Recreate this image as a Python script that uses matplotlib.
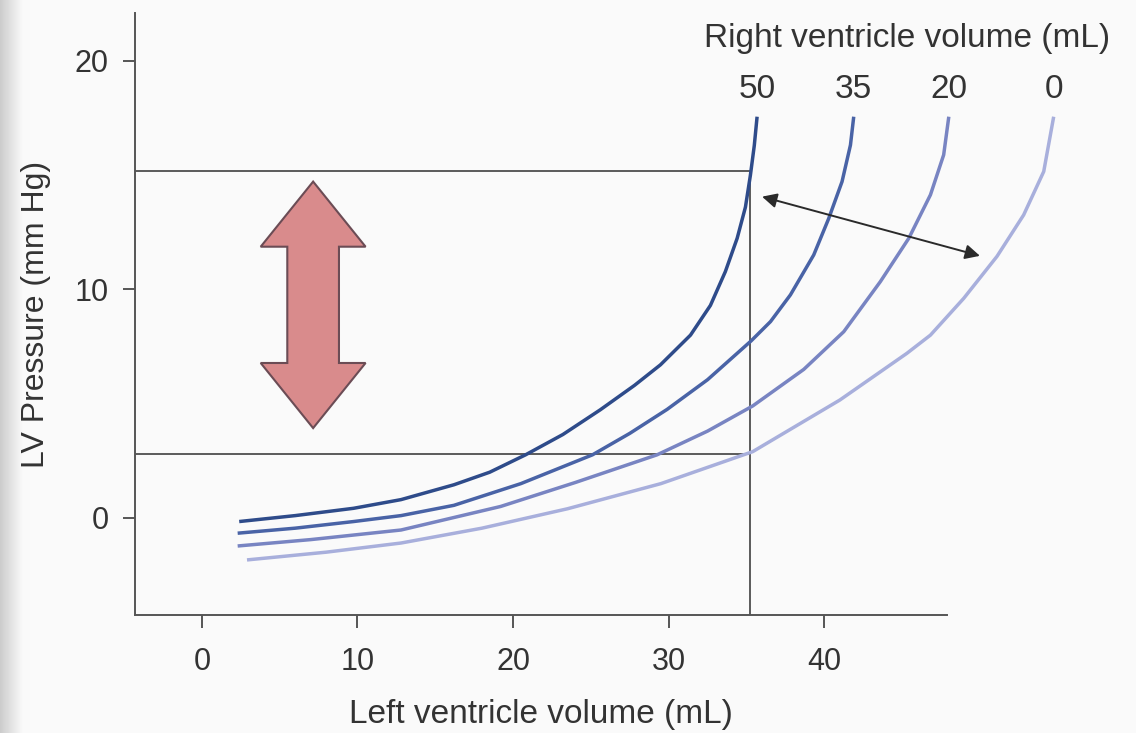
import matplotlib
matplotlib.use("Agg")
import matplotlib.pyplot as plt
import matplotlib.patches as mpatches
import numpy as np

#
# DATA
#
rv_volumes = ["50", "35", "20", "0"]

lv_vol_50 = [2.4, 6.0, 9.75, 12.8, 16.2, 18.5, 20.8, 23.2, 25.6, 27.8, 29.47, 31.4, 32.68, 33.64,
             34.4, 34.93, 35.25, 35.5, 35.68]
lv_p_50 = [-0.16, 0.1, 0.42, 0.8, 1.45, 2.0, 2.76, 3.65, 4.73, 5.8, 6.7, 8.0, 9.3, 10.78,
           12.24, 13.6, 15.0, 16.3, 17.56]

lv_vol_35 = [2.3, 6.0, 9.75, 12.8, 16.2, 20.5, 25.1, 27.5, 29.9, 32.5, 35.3, 36.54, 37.82, 39.32,
             40.28, 41.14, 41.68, 41.89]
lv_p_35 = [-0.67, -0.45, -0.16, 0.1, 0.55, 1.5, 2.76, 3.7, 4.75, 6.05, 7.75, 8.59, 9.76, 11.51,
           13.1, 14.72, 16.32, 17.56]

lv_vol_20 = [2.3, 7.0, 12.8, 19.2, 24.0, 29.25, 32.5, 35.4, 38.68, 41.25, 43.6, 45.43, 46.82,
             47.67, 48.0]
lv_p_20 = [-1.23, -0.95, -0.53, 0.5, 1.55, 2.76, 3.8, 4.9, 6.5, 8.15, 10.34, 12.24, 14.14,
           15.89, 17.56]

lv_vol_0 = [2.9, 8.0, 12.8, 18.0, 23.5, 29.5, 35.4, 41.0, 45.3, 46.82, 48.96, 51.1, 52.81,
            54.1, 54.74]
lv_p_0 = [-1.84, -1.5, -1.1, -0.45, 0.4, 1.5, 2.9, 5.16, 7.2, 8.0, 9.61, 11.45, 13.26,
          15.16, 17.56]

# reference lines
lv_mark = 35.25
p_high = 15.2
p_low = 2.8

# arrows
big_arrow_x = 7.15
big_arrow_y = (3.93, 14.72)
shift_arrow = ((36.0, 14.06), (50.0, 11.47))

curves = [(lv_vol_50, lv_p_50), (lv_vol_35, lv_p_35), (lv_vol_20, lv_p_20), (lv_vol_0, lv_p_0)]
colors = ['#2e4b8a', '#4963a6', '#7884c2', '#a8afdc']

x_min, x_max, x_axis_end = -4.3, 57.0, 47.9
y_min, y_max = -4.25, 22.1

FONT = ['Liberation Sans', 'DejaVu Sans']
NARROW = ['Liberation Sans Narrow', 'Liberation Sans', 'DejaVu Sans']
BG = '#fafafa'
TXT = '#333333'

fig = plt.figure(figsize=(11.36, 7.33), dpi=100, facecolor=BG)

# soft grey edge on the left, like the scan
edge = fig.add_axes([0, 0, 0.02, 1])
edge.imshow(np.linspace(0.80, 0.98, 50)[None, :], cmap='gray', vmin=0, vmax=1,
            aspect='auto', extent=[0, 1, 0, 1])
edge.axis('off')

ax = fig.add_axes([0.1188, 0.161, 0.8397, 0.8213], facecolor=BG)
ax.set_xlim(x_min, x_max)
ax.set_ylim(y_min, y_max)

for (xs, ys), col in zip(curves, colors):
    ax.plot(xs, ys, color=col, lw=2.5, solid_capstyle='butt', solid_joinstyle='round',
            clip_on=False, zorder=3)

# labels over the curve tops
for (xs, ys), lab in zip(curves, rv_volumes):
    ax.text(xs[-1], ys[-1] + 1.2, lab, ha='center', va='center', fontsize=24,
            family=FONT, color=TXT)
ax.text(45.3, 21.0, "Right ventricle volume (mL)", ha='center', va='center', fontsize=24,
        family=FONT, color=TXT)

# reference lines
ax.hlines([p_high, p_low], x_min, lv_mark, color='#5a5a5a', lw=1.4, zorder=2)
ax.vlines(lv_mark, y_min, p_high, color='#5a5a5a', lw=1.4, zorder=2)

# big double arrow
y0, y1 = big_arrow_y
hw, sw, hl = 3.37, 1.66, 2.85
pts = [(big_arrow_x, y1), (big_arrow_x + hw, y1 - hl), (big_arrow_x + sw, y1 - hl),
       (big_arrow_x + sw, y0 + hl), (big_arrow_x + hw, y0 + hl), (big_arrow_x, y0),
       (big_arrow_x - hw, y0 + hl), (big_arrow_x - sw, y0 + hl), (big_arrow_x - sw, y1 - hl),
       (big_arrow_x - hw, y1 - hl)]
ax.add_patch(mpatches.Polygon(pts, closed=True, facecolor='#d98b8c', edgecolor='#6b4c55',
                              lw=1.5, zorder=4))

# shift arrow
ax.annotate("", xy=shift_arrow[1], xytext=shift_arrow[0],
            arrowprops=dict(arrowstyle='<|-|>', color='#2a2a2a', lw=1.4,
                            mutation_scale=22, shrinkA=0, shrinkB=0), zorder=5)

# axes styling
for s in ['top', 'right']:
    ax.spines[s].set_visible(False)
ax.spines['bottom'].set_bounds(x_min, x_axis_end)
for s in ['left', 'bottom']:
    ax.spines[s].set_color('#555555')
    ax.spines[s].set_linewidth(1.4)

ax.set_xticks([0, 10, 20, 30, 40])
ax.set_yticks([0, 10, 20])
ax.tick_params(axis='both', direction='out', length=9, width=1.4, color='#555555',
               labelcolor=TXT, labelsize=22)
ax.tick_params(axis='x', pad=14)
ax.tick_params(axis='y', pad=10)
for t in ax.get_xticklabels():
    t.set_family(NARROW)
for t in ax.get_yticklabels():
    t.set_family(FONT)

ax.set_xlabel("Left ventricle volume (mL)", fontsize=24, family=NARROW, color=TXT)
ax.xaxis.set_label_coords(((x_min + x_axis_end) / 2 - x_min) / (x_max - x_min), -0.14)
ax.set_ylabel("LV Pressure (mm Hg)", fontsize=23, family=NARROW, color=TXT)
ax.yaxis.set_label_coords(-0.088, 0.5)

fig.savefig("out.png", dpi=100, facecolor=BG)
